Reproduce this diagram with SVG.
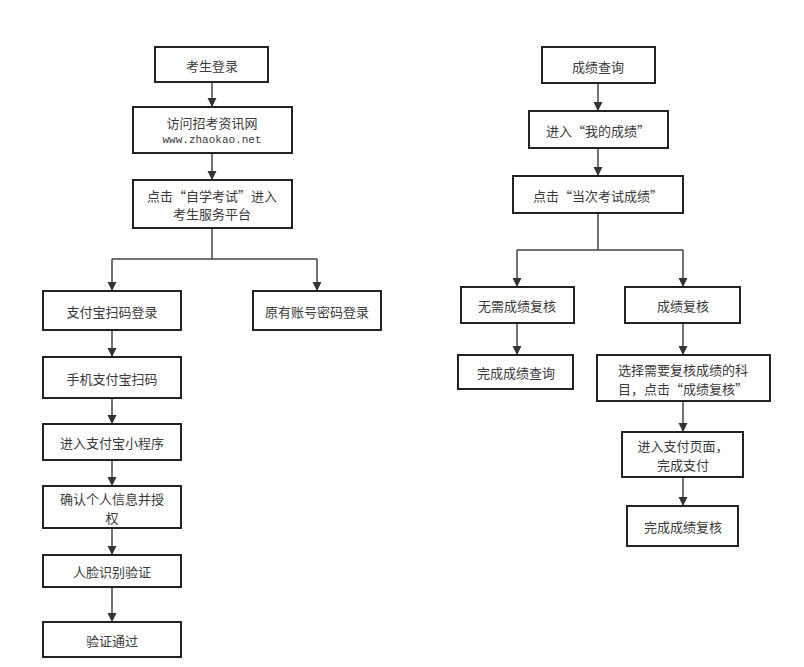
<svg xmlns="http://www.w3.org/2000/svg" width="804" height="667" viewBox="0 0 804 667">
<defs>
<marker id="arr" markerWidth="10" markerHeight="10" refX="9" refY="4.5" orient="auto" markerUnits="userSpaceOnUse">
<path d="M0,0 L9,4.5 L0,9 Z" fill="#333"/>
</marker>
<style>
.box{fill:#fff;stroke:#222;stroke-width:2}
.t{font-family:"Noto Sans CJK SC","Noto Sans",sans-serif;font-size:13px;fill:#3a3a3a;text-anchor:middle;dominant-baseline:central}
.m{font-family:"Liberation Mono",monospace;font-size:11px;fill:#3a3a3a;text-anchor:middle;dominant-baseline:central}
.c{fill:none;stroke:#444;stroke-width:1.5}
.a{marker-end:url(#arr)}
</style>
</defs>
<rect width="804" height="667" fill="#fff"/>
<g id="connectors">
<path class="c a" d="M212,82 V107"/>
<path class="c a" d="M212,153 V180"/>
<path class="c" d="M212,228 V259 M112,259 H317"/>
<path class="c a" d="M112,259 V291"/>
<path class="c a" d="M317,259 V291"/>
<path class="c a" d="M112,330 V357"/>
<path class="c a" d="M112,398 V424"/>
<path class="c a" d="M112,460 V486"/>
<path class="c a" d="M112,528 V555"/>
<path class="c a" d="M112,587 V622"/>
<path class="c a" d="M598,83 V111"/>
<path class="c a" d="M598,148 V176"/>
<path class="c" d="M598,213 V250 M517,250 H683"/>
<path class="c a" d="M517,250 V287"/>
<path class="c a" d="M683,250 V287"/>
<path class="c a" d="M517,323 V355"/>
<path class="c a" d="M683,323 V355"/>
<path class="c a" d="M683,401 V432"/>
<path class="c a" d="M683,477 V506"/>
</g>
<g id="n1"><rect class="box" x="155" y="47" width="113" height="35"/><text class="t" x="212" y="65">考生登录</text></g>
<g id="n2"><rect class="box" x="133" y="107" width="159" height="46"/><text class="t" x="212" y="122">访问招考资讯网</text><text class="m" x="212" y="140">www.zhaokao.net</text></g>
<g id="n3"><rect class="box" x="133" y="180" width="159" height="48"/><text class="t" x="212" y="195">点击“自学考试”进入</text><text class="t" x="212" y="213">考生服务平台</text></g>
<g id="n4"><rect class="box" x="43" y="291" width="138" height="39"/><text class="t" x="112" y="311">支付宝扫码登录</text></g>
<g id="n5"><rect class="box" x="253" y="291" width="128" height="39"/><text class="t" x="317" y="311">原有账号密码登录</text></g>
<g id="n6"><rect class="box" x="43" y="357" width="138" height="41"/><text class="t" x="112" y="378">手机支付宝扫码</text></g>
<g id="n7"><rect class="box" x="43" y="424" width="138" height="36"/><text class="t" x="112" y="442">进入支付宝小程序</text></g>
<g id="n8"><rect class="box" x="43" y="486" width="138" height="42"/><text class="t" x="112" y="498">确认个人信息并授</text><text class="t" x="112" y="517">权</text></g>
<g id="n9"><rect class="box" x="43" y="555" width="138" height="32"/><text class="t" x="112" y="571">人脸识别验证</text></g>
<g id="n10"><rect class="box" x="43" y="622" width="138" height="35"/><text class="t" x="112" y="640">验证通过</text></g>
<g id="r1"><rect class="box" x="542" y="47" width="113" height="36"/><text class="t" x="598" y="66">成绩查询</text></g>
<g id="r2"><rect class="box" x="529" y="111" width="139" height="37"/><text class="t" x="598" y="130">进入“我的成绩”</text></g>
<g id="r3"><rect class="box" x="513" y="176" width="170" height="37"/><text class="t" x="598" y="195">点击“当次考试成绩”</text></g>
<g id="r4"><rect class="box" x="461" y="287" width="113" height="36"/><text class="t" x="517" y="305">无需成绩复核</text></g>
<g id="r5"><rect class="box" x="625" y="287" width="115" height="36"/><text class="t" x="683" y="305">成绩复核</text></g>
<g id="r6"><rect class="box" x="458" y="355" width="115" height="34"/><text class="t" x="516" y="372">完成成绩查询</text></g>
<g id="r7"><rect class="box" x="597" y="355" width="173" height="46"/><text class="t" x="683" y="369">选择需要复核成绩的科</text><text class="t" x="683" y="388">目，点击“成绩复核”</text></g>
<g id="r8"><rect class="box" x="622" y="432" width="121" height="45"/><text class="t" x="683" y="445">进入支付页面，</text><text class="t" x="683" y="464">完成支付</text></g>
<g id="r9"><rect class="box" x="627" y="506" width="111" height="40"/><text class="t" x="683" y="526">完成成绩复核</text></g>
</svg>
